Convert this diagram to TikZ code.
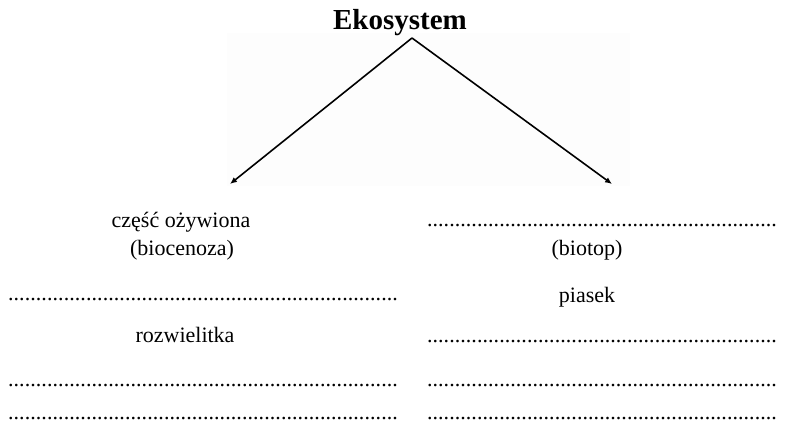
\documentclass[tikz,border=0pt]{standalone}
\usepackage{fontspec}
\setmainfont{Liberation Serif}
\usetikzlibrary{arrows.meta}

\newcommand{\kropki}[1]{\hbox to #1{\xleaders\hbox{.}\hfill}}

\tikzset{
  tekst/.style={anchor=base, inner sep=0pt, font=\fontsize{22bp}{26bp}\selectfont},
  tytul/.style={anchor=base, inner sep=0pt, font=\fontsize{29bp}{34bp}\selectfont\bfseries},
  strzalka/.style={line width=1.6pt, -{Latex[length=7pt,width=6pt]}}
}

\begin{document}
\begin{tikzpicture}[x=1bp, y=-1bp]

        \useasboundingbox (0,0) rectangle (792,426) ;
        \fill [black!0.7] (227,33) rectangle (630,186) ;

        \node [tytul] (eko) at (400,29) {Ekosystem} ;

        \coordinate (apex) at (412,38) ;
        \coordinate (lewy) at (230,184) ;
        \coordinate (prawy) at (612,184) ;

        \draw [strzalka] (apex) to (lewy) ;
        \draw [strzalka] (apex) to (prawy) ;

        % lewa kolumna
        \node [tekst] (ozyw) at (181,227) {część ożywiona} ;
        \node [tekst] (bioc) at (182,255) {(biocenoza)} ;
        \node [tekst] (l1) at (203,300) {\kropki{390bp}} ;
        \node [tekst] (rozw) at (185,342) {rozwielitka} ;
        \node [tekst] (l2) at (203,386) {\kropki{390bp}} ;
        \node [tekst] (l3) at (203,419) {\kropki{390bp}} ;

        % prawa kolumna
        \node [tekst] (p1) at (602,226) {\kropki{350bp}} ;
        \node [tekst] (biot) at (587,255) {(biotop)} ;
        \node [tekst] (pias) at (587,302) {piasek} ;
        \node [tekst] (p2) at (602,342) {\kropki{350bp}} ;
        \node [tekst] (p3) at (602,386) {\kropki{350bp}} ;
        \node [tekst] (p4) at (602,419) {\kropki{350bp}} ;

\end{tikzpicture}
\end{document}
